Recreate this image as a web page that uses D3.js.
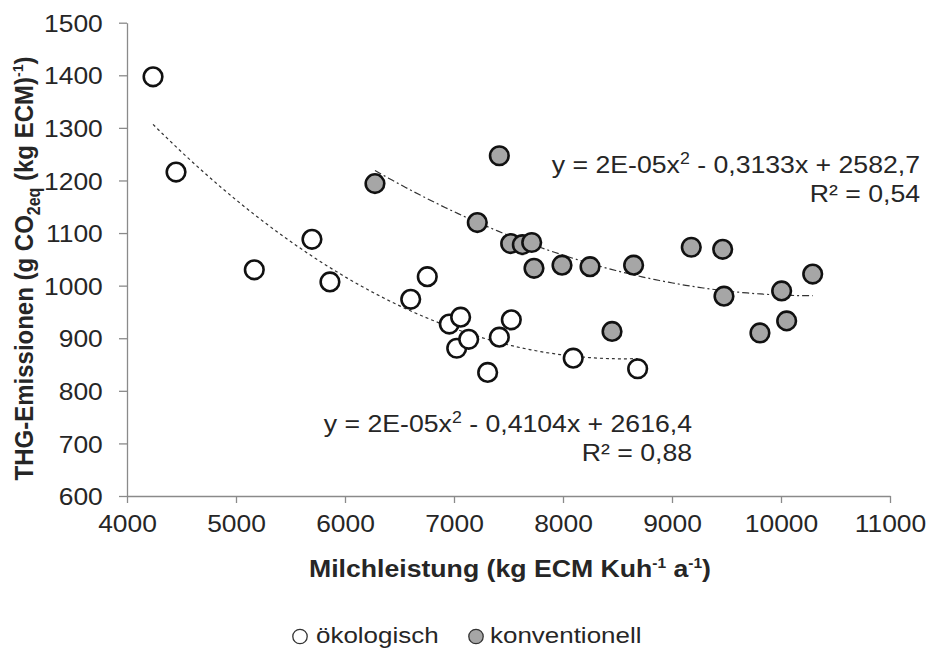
<!DOCTYPE html>
<html><head><meta charset="utf-8">
<script src="https://cdn.jsdelivr.net/npm/d3@7"></script>
<style>
body{margin:0;background:#fff;}
text{font-family:"Liberation Sans",Arial,sans-serif;}
</style></head>
<body><svg id="c" width="928" height="650"></svg>
<script>
// Data: x = Milchleistung (kg ECM), y = THG-Emissionen
const oekoX = [4239,4450,5168,5697,5862,6603,6755,6957,7025,7061,7135,7309,7416,7526,8094,8685];
const oekoY = [1397,1216,1030,1088,1007,974,1017,927,881,940,898,835,902,935,862,842];
const konvX = [6275,7214,7416,7520,7627,7713,7734,7991,8248,8450,8648,9177,9465,9477,9807,10006,10052,10291];
const konvY = [1194,1120,1247,1080,1078,1082,1033,1039,1036,913,1039,1073,1069,980,910,990,933,1022];
const xTicks = [4000,5000,6000,7000,8000,9000,10000,11000];
const yTicks = [600,700,800,900,1000,1100,1200,1300,1400,1500];
const seriesNames = ["ökologisch","konventionell"];
const eqKonv = ["y = 2E-05x","2"," - 0,3133x + 2582,7"];
const r2Konv = "R² = 0,54";
const eqOeko = ["y = 2E-05x","2"," - 0,4104x + 2616,4"];
const r2Oeko = "R² = 0,88";

const svg = d3.select("#c");
const L=127, R=890, T=22.7, B=496;
const x = d3.scaleLinear().domain([4000,11000]).range([L,R]);
const y = d3.scaleLinear().domain([600,1500]).range([B,T]);
const axisCol="#8a8a8a", txtCol="#262626";
const SX=1.1;

// place a text with horizontal stretch around its anchor
function stext(px, py, sx){
  return svg.append("text").attr("transform",`translate(${px},${py}) scale(${sx},1)`).attr("fill",txtCol);
}

// axes
const gx = svg.append("g").attr("transform",`translate(0,${B})`)
  .call(d3.axisBottom(x).tickValues(xTicks).tickSize(7).tickSizeOuter(0).tickPadding(12).tickFormat(d3.format("d")));
const gy = svg.append("g").attr("transform",`translate(${L},0)`)
  .call(d3.axisLeft(y).tickValues(yTicks).tickSize(8).tickSizeOuter(0).tickPadding(14).tickFormat(d3.format("d")));
[gx,gy].forEach(g=>{
  g.select(".domain").attr("stroke",axisCol).attr("stroke-width",1.3);
  g.selectAll(".tick line").attr("stroke",axisCol).attr("stroke-width",1.3);
  g.selectAll("text").attr("font-size",24).attr("fill",txtCol).attr("font-family","Liberation Sans, Arial")
    .attr("transform",`scale(${SX},1)`);
});
gy.selectAll("text").attr("dy","0.36em");

// quadratic least squares fit (trendline, as in the original chart)
function quadFit(xs, ys){
  const s=1000;
  let S=[0,0,0,0,0], Ty=[0,0,0];
  xs.forEach((xv,i)=>{const t=xv/s; let p=1; for(let k=0;k<5;k++){S[k]+=p; if(k<3) Ty[k]+=p*ys[i]; p*=t;}});
  const A=[[S[0],S[1],S[2],Ty[0]],[S[1],S[2],S[3],Ty[1]],[S[2],S[3],S[4],Ty[2]]];
  for(let i=0;i<3;i++){ for(let j=i+1;j<3;j++){ const f=A[j][i]/A[i][i]; for(let k=i;k<4;k++) A[j][k]-=f*A[i][k]; } }
  const c=[0,0,0];
  for(let i=2;i>=0;i--){ let v=A[i][3]; for(let k=i+1;k<3;k++) v-=A[i][k]*c[k]; c[i]=v/A[i][i]; }
  return xv=>{const t=xv/s; return c[0]+c[1]*t+c[2]*t*t;};
}
function trend(xs, ys, dash){
  const f=quadFit(xs,ys);
  const x0=d3.min(xs), x1=d3.max(xs);
  const pts=d3.range(0,101).map(i=>{const xv=x0+(x1-x0)*i/100; return [xv,f(xv)];});
  svg.append("path").attr("d",d3.line().x(d=>x(d[0])).y(d=>y(d[1]))(pts))
    .attr("fill","none").attr("stroke","#333").attr("stroke-width",1.2).attr("stroke-dasharray",dash);
}
trend(oekoX,oekoY,"3,3");
trend(konvX,konvY,"7,3,2,3");

// points
function pts(xs, ys, fill){
  svg.append("g").selectAll("circle").data(xs.map((d,i)=>[d,ys[i]])).join("circle")
    .attr("cx",d=>x(d[0])).attr("cy",d=>y(d[1])).attr("r",9.3)
    .attr("fill",fill).attr("stroke","#111").attr("stroke-width",2.6);
}
pts(oekoX,oekoY,"#ffffff");
pts(konvX,konvY,"#a6a6a6");

// equations
function eq(parts, r2, xr, yb){
  const t=stext(xr,yb,1.11).attr("text-anchor","end").attr("font-size",24);
  t.append("tspan").text(parts[0]);
  t.append("tspan").attr("dy",-9).attr("font-size",16).text(parts[1]);
  t.append("tspan").attr("dy",9).text(parts[2]);
  stext(xr,yb+29,1.11).attr("text-anchor","end").attr("font-size",24).text(r2);
}
eq(eqKonv,r2Konv,920,173);
eq(eqOeko,r2Oeko,692,432);

// axis titles
const xt=stext(510,577,1.11).attr("text-anchor","middle").attr("font-size",24).attr("font-weight","bold");
xt.append("tspan").text("Milchleistung (kg ECM Kuh");
xt.append("tspan").attr("dy",-9).attr("font-size",14).text("-1");
xt.append("tspan").attr("dy",9).text(" a");
xt.append("tspan").attr("dy",-9).attr("font-size",14).text("-1");
xt.append("tspan").attr("dy",9).text(")");

const yt=svg.append("text").attr("transform","translate(33,268.5) scale(1.1,1) rotate(-90)").attr("text-anchor","middle").attr("font-size",24).attr("font-weight","bold").attr("fill",txtCol);
yt.append("tspan").text("THG-Emissionen (g CO");
yt.append("tspan").attr("dy",6).attr("font-size",16).text("2eq");
yt.append("tspan").attr("dy",-6).text(" (kg ECM)");
yt.append("tspan").attr("dy",-9).attr("font-size",14).text("-1");
yt.append("tspan").attr("dy",9).text(")");

// legend
const legItems=[{name:seriesNames[0],fill:"#ffffff",cx:300,tx:316},{name:seriesNames[1],fill:"#a6a6a6",cx:476,tx:490}];
legItems.forEach(d=>{
  svg.append("circle").attr("cx",d.cx).attr("cy",636.5).attr("r",7.2).attr("fill",d.fill).attr("stroke","#333").attr("stroke-width",1.3);
  stext(d.tx,642.5,1.18).attr("font-size",22).text(d.name);
});
</script></body></html>
